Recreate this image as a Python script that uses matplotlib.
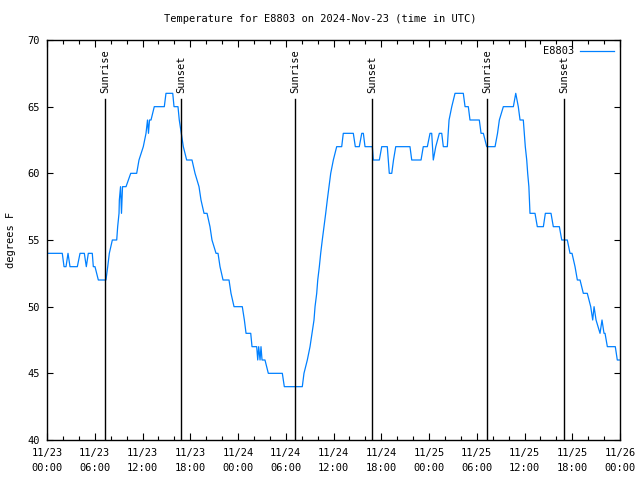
import matplotlib
matplotlib.use("Agg")
import matplotlib.pyplot as plt
import numpy as np

# hours since 2024-11-23 00:00 UTC, temperature in degrees F
hours = [
    0.16, 1.92, 2.14, 2.39, 2.64, 2.89, 3.81, 4.15, 4.69, 4.94, 5.19, 5.69, 5.82, 6.03,
    6.45, 7.41, 7.63, 7.83, 8.21, 8.76, 8.88, 9.05, 9.09, 9.24, 9.36, 9.49, 9.93, 10.52,
    11.27, 11.56, 12.10, 12.44, 12.63, 12.75, 12.88, 13.07, 13.48, 14.74, 14.95, 15.80,
    15.96, 16.46, 16.62, 16.88, 17.13, 17.55, 18.22, 18.60, 19.10, 19.35, 19.73, 20.11,
    20.48, 20.73, 21.24, 21.49, 21.74, 22.12, 22.87, 23.12, 23.50, 24.54, 24.80, 25.01,
    25.60, 25.76, 26.35, 26.48, 26.60, 26.77, 26.89, 27.02, 27.39, 27.81, 29.57, 29.82,
    32.08, 32.29, 32.71, 33.05, 33.30, 33.55, 33.68, 33.89, 34.02, 34.22, 34.39, 34.59,
    34.81, 35.02, 35.22, 35.44, 35.65, 35.98, 36.40, 37.03, 37.23, 38.49, 38.74, 39.24,
    39.55, 39.75, 39.96, 40.88, 41.00, 41.76, 42.06, 42.76, 43.01, 43.32, 43.54, 43.82,
    45.61, 45.83, 47.00, 47.28, 47.79, 48.13, 48.34, 48.54, 48.85, 49.30, 49.60, 49.80,
    50.30, 50.52, 50.86, 51.27, 52.31, 52.53, 52.94, 53.15, 54.32, 54.54, 54.83, 55.25,
    56.30, 56.61, 56.84, 57.34, 58.60, 58.90, 59.22, 59.44, 59.85, 60.10, 60.28, 60.40,
    60.55, 60.69, 61.32, 61.61, 62.37, 62.62, 63.33, 63.62, 64.38, 64.68, 65.38, 65.72,
    65.97, 66.35, 66.64, 66.98, 67.39, 67.89, 68.32, 68.57, 68.74, 68.99, 69.49, 69.74,
    69.99, 70.12, 70.41, 71.41, 71.66, 71.91,
]
temps = [
    54, 54, 53, 53, 54, 53, 53, 54, 54, 53, 54, 54, 53, 53,
    52, 52, 53, 54, 55, 55, 56, 57, 58, 59, 57, 59, 59, 60,
    60, 61, 62, 63, 64, 63, 64, 64, 65, 65, 66, 66,
    65, 65, 64, 63, 62, 61, 61, 60, 59, 58, 57, 57,
    56, 55, 54, 54, 53, 52, 52, 51, 50, 50, 49, 48,
    48, 47, 47, 46, 47, 46, 47, 46, 46, 45, 45, 44,
    44, 45, 46, 47, 48, 49, 50, 51, 52, 53, 54, 55,
    56, 57, 58, 59, 60, 61, 62, 62, 63, 63, 62, 62,
    63, 63, 62, 62, 61, 61, 62, 62, 60, 60, 61, 62,
    62, 61, 61, 62, 62, 63, 63, 61, 62, 63, 63, 62,
    62, 64, 65, 66, 66, 65, 65, 64, 64, 63, 63, 62,
    62, 63, 64, 65, 65, 66, 65, 64, 64, 62, 61, 60,
    59, 57, 57, 56, 56, 57, 57, 56, 56, 55, 55, 54,
    54, 53, 52, 52, 51, 51, 50, 49, 50, 49, 48, 49,
    48, 48, 47, 47, 46, 46,
]

sunEvents = [7.28, 16.85, 31.2, 40.85, 55.3, 64.95]
sunLabels = ["Sunrise", "Sunset", "Sunrise", "Sunset", "Sunrise", "Sunset"]

tickHours = np.arange(0, 73, 6)
tickLabels = ["11/23\n00:00", "11/23\n06:00", "11/23\n12:00", "11/23\n18:00",
              "11/24\n00:00", "11/24\n06:00", "11/24\n12:00", "11/24\n18:00",
              "11/25\n00:00", "11/25\n06:00", "11/25\n12:00", "11/25\n18:00",
              "11/26\n00:00"]

plt.rcParams['font.family'] = 'DejaVu Sans Mono'
plt.rcParams['font.size'] = 7.5

fig = plt.figure(figsize=(6.4, 4.8), dpi=100)
ax = fig.add_axes([47 / 640, 40 / 480, 573 / 640, 400 / 480])

ax.plot(hours, temps, color='#0080ff', lw=0.9, label='E8803')

for h, lab in zip(sunEvents, sunLabels):
    ax.plot([h, h], [40, 65.55], color='black', lw=1.0)
    ax.text(h, 66.05, lab, rotation=90, ha='center', va='bottom', fontsize=7.5)

ax.set_xlim(0, 72)
ax.set_ylim(40, 70)
ax.set_xticks(tickHours)
ax.set_xticklabels(tickLabels, linespacing=1.6)
ax.set_xticks(np.arange(0, 73, 2), minor=True)
ax.set_yticks(np.arange(40, 71, 5))
ax.tick_params(which='both', direction='in', top=True, right=True, width=0.8)
ax.tick_params(which='major', length=5, pad=6)
ax.tick_params(which='minor', length=3)
ax.tick_params(axis='y', length=4, pad=5)
for s in ax.spines.values():
    s.set_linewidth(1.0)

ax.set_ylabel('degrees F', labelpad=8)
fig.text(0.5, 1 - 19 / 480, 'Temperature for E8803 on 2024-Nov-23 (time in UTC)',
         ha='center', va='center', fontsize=7.5)

ax.legend(loc='upper right', frameon=False, markerfirst=False, handlelength=3.2,
          borderaxespad=0.2, handletextpad=0.6)

fig.savefig('out.png', dpi=100)
